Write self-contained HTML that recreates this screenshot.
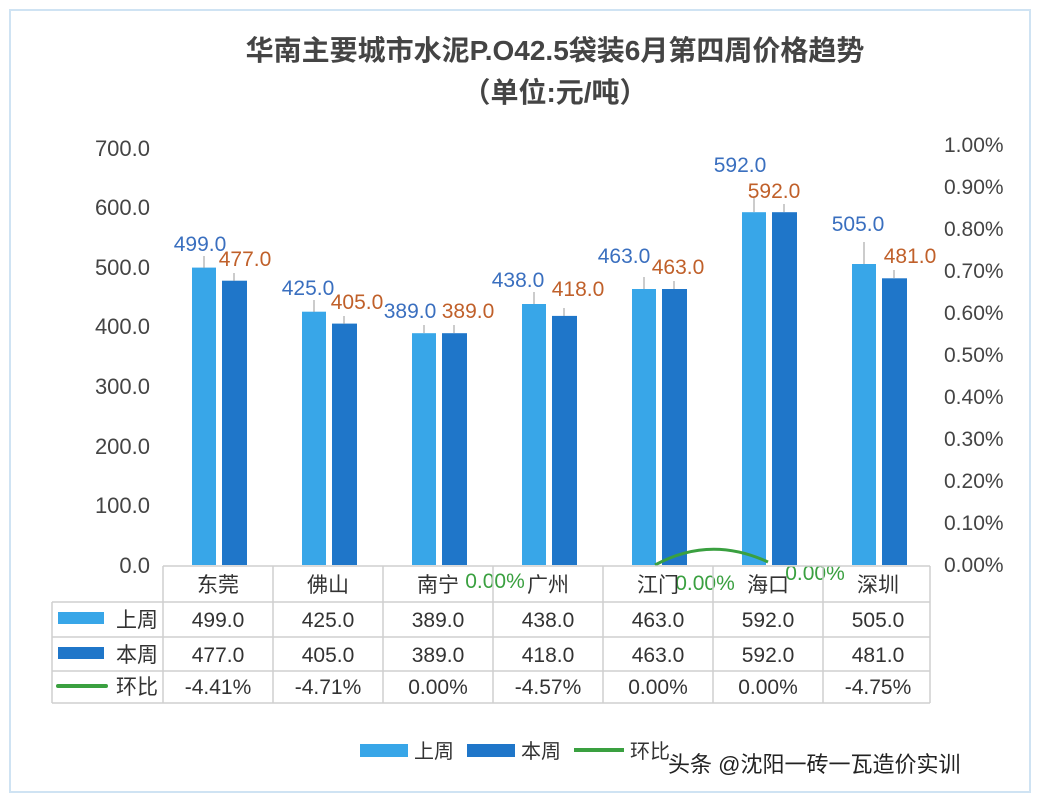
<!DOCTYPE html><html><head><meta charset="utf-8"><style>body{margin:0;background:#fff}svg{display:block}text{font-family:"Liberation Sans","Noto Sans CJK SC",sans-serif}</style></head><body>
<svg width="1040" height="800" viewBox="0 0 1040 800">
<rect x="0" y="0" width="1040" height="800" fill="#fff"/>
<rect x="10" y="10" width="1020" height="782" fill="none" stroke="#cfe3f3" stroke-width="2"/>
<text x="555" y="60" font-size="28" font-weight="bold" fill="#444" text-anchor="middle">华南主要城市水泥P.O42.5袋装6月第四周价格趋势</text>
<text x="555" y="102" font-size="28" font-weight="bold" fill="#444" text-anchor="middle">（单位:元/吨）</text>
<g font-size="22" fill="#444" text-anchor="end">
<text x="150" y="573">0.0</text><text x="150" y="513">100.0</text><text x="150" y="454">200.0</text><text x="150" y="394">300.0</text><text x="150" y="334">400.0</text><text x="150" y="275">500.0</text><text x="150" y="215">600.0</text><text x="150" y="156">700.0</text>
</g>
<g font-size="21" fill="#444" text-anchor="start">
<text x="944" y="572">0.00%</text><text x="944" y="530">0.10%</text><text x="944" y="488">0.20%</text><text x="944" y="446">0.30%</text><text x="944" y="404">0.40%</text><text x="944" y="362">0.50%</text><text x="944" y="320">0.60%</text><text x="944" y="278">0.70%</text><text x="944" y="236">0.80%</text><text x="944" y="194">0.90%</text><text x="944" y="152">1.00%</text>
</g>
<g fill="#38a6e8">
<rect x="192" y="267.6" width="24" height="297.4"/><rect x="302" y="311.7" width="24" height="253.3"/><rect x="412" y="333.2" width="24" height="231.8"/><rect x="522" y="304" width="24" height="261"/><rect x="632" y="289" width="24" height="276"/><rect x="742" y="212.2" width="24" height="352.8"/><rect x="852" y="264" width="24" height="301"/>
</g>
<g fill="#1f76c9">
<rect x="222" y="280.7" width="25" height="284.3"/><rect x="332" y="323.6" width="25" height="241.4"/><rect x="442" y="333.2" width="25" height="231.8"/><rect x="552" y="315.9" width="25" height="249.1"/><rect x="662" y="289" width="25" height="276"/><rect x="772" y="212.2" width="25" height="352.8"/><rect x="882" y="278.3" width="25" height="286.7"/>
</g>
<g stroke="#999">
<line x1="204" y1="268" x2="204" y2="256"/><line x1="314" y1="312" x2="314" y2="300"/><line x1="424" y1="333" x2="424" y2="325"/><line x1="534" y1="304" x2="534" y2="292"/><line x1="644" y1="289" x2="644" y2="277"/><line x1="754" y1="212" x2="754" y2="196"/><line x1="864" y1="264" x2="864" y2="242"/>
<line x1="234" y1="281" x2="234" y2="273"/><line x1="344" y1="324" x2="344" y2="316"/><line x1="454" y1="333" x2="454" y2="325"/><line x1="564" y1="316" x2="564" y2="308"/><line x1="674" y1="289" x2="674" y2="281"/><line x1="784" y1="212" x2="784" y2="204"/><line x1="894" y1="278" x2="894" y2="270"/>
</g>
<g font-size="21" fill="#3a6fbf" text-anchor="middle">
<text x="200" y="251">499.0</text><text x="308" y="295">425.0</text><text x="410" y="318">389.0</text><text x="518" y="287">438.0</text><text x="624" y="263">463.0</text><text x="740" y="172">592.0</text><text x="858" y="231">505.0</text>
</g>
<g font-size="21" fill="#c0602a" text-anchor="middle">
<text x="245" y="266">477.0</text><text x="357" y="309">405.0</text><text x="468" y="318">389.0</text><text x="578" y="296">418.0</text><text x="678" y="274">463.0</text><text x="774" y="198">592.0</text><text x="910" y="263">481.0</text>
</g>
<path d="M655 565 Q710 535 768 562" fill="none" stroke="#3aa040" stroke-width="3"/>
<g font-size="21" fill="#3aa040" text-anchor="middle"><text x="495" y="588">0.00%</text><text x="705" y="590">0.00%</text><text x="815" y="580">0.00%</text></g>
<g stroke="#cfcfcf" stroke-width="1.5" fill="none">
<line x1="163" y1="566" x2="930" y2="566"/><line x1="52" y1="602" x2="930" y2="602"/><line x1="52" y1="637" x2="930" y2="637"/><line x1="52" y1="671" x2="930" y2="671"/><line x1="52" y1="703" x2="930" y2="703"/>
<line x1="52" y1="602" x2="52" y2="703"/>
<line x1="163" y1="566" x2="163" y2="703"/><line x1="273" y1="566" x2="273" y2="703"/><line x1="383" y1="566" x2="383" y2="703"/><line x1="493" y1="566" x2="493" y2="703"/><line x1="603" y1="566" x2="603" y2="703"/><line x1="713" y1="566" x2="713" y2="703"/><line x1="823" y1="566" x2="823" y2="703"/><line x1="930" y1="566" x2="930" y2="703"/>
</g>
<g font-size="21" fill="#333" text-anchor="middle">
<text x="218" y="592">东莞</text><text x="328" y="592">佛山</text><text x="438" y="592">南宁</text><text x="548" y="592">广州</text><text x="658" y="592">江门</text><text x="768" y="592">海口</text><text x="878" y="592">深圳</text>
<text x="218" y="627">499.0</text><text x="328" y="627">425.0</text><text x="438" y="627">389.0</text><text x="548" y="627">438.0</text><text x="658" y="627">463.0</text><text x="768" y="627">592.0</text><text x="878" y="627">505.0</text>
<text x="218" y="662">477.0</text><text x="328" y="662">405.0</text><text x="438" y="662">389.0</text><text x="548" y="662">418.0</text><text x="658" y="662">463.0</text><text x="768" y="662">592.0</text><text x="878" y="662">481.0</text>
<text x="218" y="694">-4.41%</text><text x="328" y="694">-4.71%</text><text x="438" y="694">0.00%</text><text x="548" y="694">-4.57%</text><text x="658" y="694">0.00%</text><text x="768" y="694">0.00%</text><text x="878" y="694">-4.75%</text>
</g>
<rect x="58" y="612" width="46" height="12" fill="#38a6e8"/><rect x="58" y="647" width="46" height="12" fill="#1f76c9"/><rect x="56" y="684" width="52" height="4" rx="2" fill="#3aa040"/>
<g font-size="21" fill="#333"><text x="116" y="627">上周</text><text x="116" y="662">本周</text><text x="116" y="694">环比</text></g>
<rect x="360" y="744" width="48" height="13" fill="#38a6e8"/><text x="414" y="758" font-size="20" fill="#333">上周</text>
<rect x="467" y="744" width="48" height="13" fill="#1f76c9"/><text x="521" y="758" font-size="20" fill="#333">本周</text>
<rect x="574" y="748" width="50" height="4" fill="#3aa040"/><text x="630" y="758" font-size="20" fill="#333">环比</text>
<text x="668" y="772" font-size="22" fill="#222">头条 @沈阳一砖一瓦造价实训</text>
</svg></body></html>
